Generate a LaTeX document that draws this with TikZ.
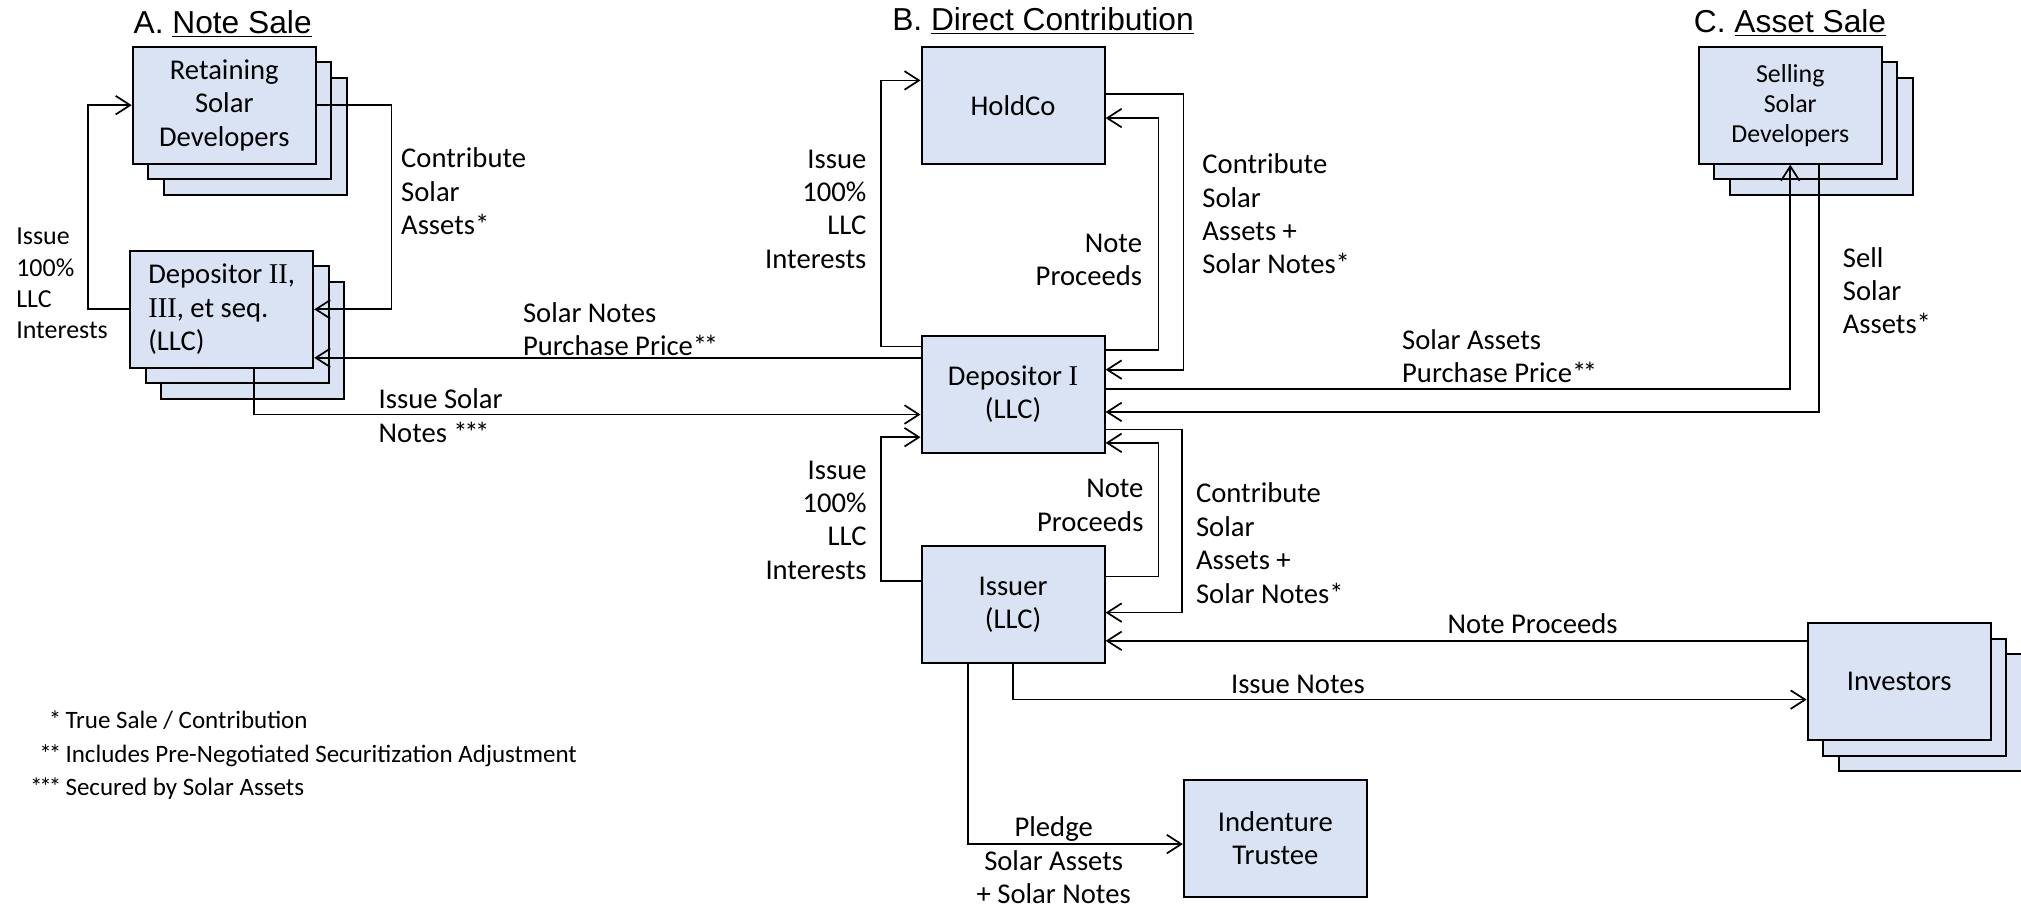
\documentclass[tikz,border=0pt]{standalone}
\usepackage{fontspec}
\setmainfont{Carlito}
\newfontfamily\headfont{Liberation Sans}
\newfontfamily\romnum{Liberation Serif}
\usetikzlibrary{arrows.meta,shadows}
\definecolor{boxfill}{RGB}{218,227,243}
\newcommand\mainsz{\fontsize{15.8}{18.4}\selectfont}
\newcommand\smallsz{\fontsize{14.3}{17.3}\selectfont}
\newcommand\sellsz{\fontsize{14.3}{16.6}\selectfont}
\newcommand\notesz{\fontsize{13.8}{18.5}\selectfont}
\newcommand\headsz{\fontsize{17.5}{20}\selectfont\headfont}
\newcommand\dstar{*\kern-.12em*}
\newcommand\tstar{*\kern-.12em*\kern-.12em*}

\begin{document}
\begin{tikzpicture}
  [x=0.025cm, y=-0.025cm,
   blk/.style={draw, fill=boxfill, line width=1.1pt,
     minimum width=3.55cm, minimum height=2.27cm,
     inner sep=0pt, align=center, font=\mainsz},
   stk/.style={blk, double copy shadow={shadow xshift=0.3cm,
       shadow yshift=-0.3cm}},
   txt/.style={inner sep=0pt, font=\mainsz},
   hd/.style={inner sep=0pt, anchor=base west, font=\headsz},
   arr/.style={line width=0.95pt,
     -{Straight Barb[length=2.8mm,width=3.6mm]}}]
  \useasboundingbox (0,0) rectangle (1568,704);

  % headings
  \node[hd] (hdA) at (103.4,26) {A. \underline{Note Sale}};
  \node[hd] (hdB) at (692,24) {B. \underline{Direct Contribution}};
  \node[hd] (hdC) at (1314,25.5) {C. \underline{Asset Sale}};

  % entities
  \node[stk] (ret) at (174,81.6) {Retaining\\Solar\\Developers};
  \node[stk, align=left] (dep2) at (172,240)
    {Depositor {\romnum II},\\{\romnum III}, et seq.\\(LLC)};
  \node[blk] (hold) at (786,81.6) {HoldCo};
  \node[blk] (dep1) at (786,306) {Depositor {\romnum I}\\(LLC)};
  \node[blk] (iss) at (786,469.3) {Issuer\\(LLC)};
  \node[blk] (trustee) at (989.5,650.5) {Indenture\\Trustee};
  \node[stk] (inv) at (1473.5,528.8) {Investors};
  \node[stk, font=\sellsz] (sell) at (1389,81.6)
    {Selling\\Solar\\Developers};

  % A. note sale
  \draw[arr] (dep2.west) -- ++(-32,0) |- (ret.west);
  \draw[arr] (ret.east) -- ++(58,0) |- (dep2.east);
  \draw[arr] ([yshift=-0.445cm]dep1.north west)
    -- ([yshift=-0.445cm]dep1.north west -| dep2.east);
  \draw[arr] ([xshift=0.63cm]dep2.south) |- ([yshift=-0.39cm]dep1.west);
  \node[txt, font=\smallsz, anchor=west, align=left] (issA) at (12.4,220)
    {Issue\\100\%\\LLC\\Interests};
  \node[txt, anchor=west, align=left] (conA) at (311,148.5)
    {Contribute\\Solar\\Assets*};
  \node[txt, anchor=west, align=left] (snpp) at (405.5,255.5)
    {Solar Notes\\Purchase Price\dstar};
  \node[txt, anchor=west, align=left] (isn) at (293.5,322.5)
    {Issue Solar\\Notes \tstar};

  % B. direct contribution
  \draw[arr] ([yshift=-0.225cm]dep1.north west) -- ++(-30.5,0)
    |- ([yshift=0.48cm]hold.west);
  \draw[arr] ([yshift=-0.3cm]dep1.north east) -- ++(41,0)
    |- ([yshift=-0.25cm]hold.east);
  \draw[arr] ([yshift=0.21cm]hold.east) -- ++(60.5,0)
    |- ([yshift=0.48cm]dep1.east);
  \draw[arr] ([yshift=-0.68cm]dep1.east) -- ++(59,0)
    |- ([yshift=-0.15cm]iss.east);
  \draw[arr] ([yshift=0.55cm]iss.east) -- ++(41,0)
    |- ([yshift=-0.94cm]dep1.east);
  \draw[arr] ([yshift=0.47cm]iss.west) -- ++(-30.5,0)
    |- ([yshift=-0.83cm]dep1.west);
  \node[txt, anchor=east, align=right] (issB) at (672.4,162.2)
    {Issue\\100\%\\LLC\\Interests};
  \node[txt, anchor=east, align=right] (npB) at (886.3,201.5)
    {Note\\Proceeds};
  \node[txt, anchor=west, align=left] (conB) at (932.6,166.1)
    {Contribute\\Solar\\Assets +\\Solar Notes*};
  \node[txt, anchor=east, align=right] (issC) at (672.6,403.4)
    {Issue\\100\%\\LLC\\Interests};
  \node[txt, anchor=east, align=right] (npC) at (887.4,392.1)
    {Note\\Proceeds};
  \node[txt, anchor=west, align=left] (conC) at (927.7,421.4)
    {Contribute\\Solar\\Assets +\\Solar Notes*};

  % C. asset sale
  \draw[arr] ([yshift=0.105cm]dep1.east) -| (sell.south);
  \draw[arr] ([xshift=0.56cm]sell.south) |- ([yshift=-0.34cm]dep1.east);
  \node[txt, anchor=west, align=left] (sapp) at (1087.6,276.5)
    {Solar Assets\\Purchase Price\dstar};
  \node[txt, anchor=west, align=left] (ssa) at (1429.5,225.5)
    {Sell\\Solar\\Assets*};

  % issuer flows
  \draw[arr] ([yshift=0.79cm]inv.west) -- ([yshift=0.79cm]inv.west -| iss.east);
  \draw[arr] (iss.south) |- ([yshift=-0.35cm]inv.west);
  \draw[arr] ([xshift=-0.87cm]iss.south) |- ([yshift=-0.11cm]trustee.west);
  \node[txt] (npInv) at (1189,483.6) {Note Proceeds};
  \node[txt] (issN) at (1007,531.3) {Issue Notes};
  \node[txt, align=center] (pledge) at (817.5,667.5)
    {Pledge\\Solar Assets\\+ Solar Notes};

  % footnotes
  \node[inner sep=0pt, font=\notesz, anchor=west] (notes) at (23,586)
    {\begin{tabular}{@{}r@{\,}l@{}}
      {*} & True Sale / Contribution\\
      {\dstar} & Includes Pre-Negotiated Securitization Adjustment\\
      {\tstar} & Secured by Solar Assets
    \end{tabular}};
\end{tikzpicture}
\end{document}
